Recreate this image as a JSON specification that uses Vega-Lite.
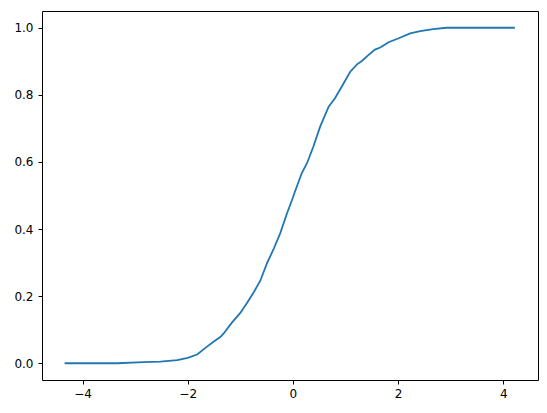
{
  "$schema": "https://vega.github.io/schema/vega-lite/v6.json",
  "width": 496,
  "height": 369,
  "autosize": {"type": "none"},
  "padding": {"left": 42, "top": 11, "right": 9, "bottom": 33},
  "background": "white",
  "config": {
    "view": {"stroke": "black", "strokeWidth": 1},
    "axis": {
      "grid": false,
      "domain": false,
      "tickColor": "black",
      "tickSize": 4,
      "labelColor": "black",
      "labelFont": "DejaVu Sans",
      "labelFontSize": 12,
      "labelFlush": false,
      "labelOverlap": false,
      "title": null
    }
  },
  "data": {
    "values": [
      {"x": -4.34, "p": 0.0},
      {"x": -3.34, "p": 0.0},
      {"x": -2.84, "p": 0.003},
      {"x": -2.52, "p": 0.005},
      {"x": -2.2, "p": 0.009},
      {"x": -2.0, "p": 0.016},
      {"x": -1.82, "p": 0.026},
      {"x": -1.67, "p": 0.045},
      {"x": -1.51, "p": 0.064},
      {"x": -1.38, "p": 0.078},
      {"x": -1.32, "p": 0.088},
      {"x": -1.16, "p": 0.121},
      {"x": -1.0, "p": 0.15},
      {"x": -0.87, "p": 0.18},
      {"x": -0.75, "p": 0.21},
      {"x": -0.62, "p": 0.246},
      {"x": -0.49, "p": 0.299},
      {"x": -0.37, "p": 0.339},
      {"x": -0.24, "p": 0.388},
      {"x": -0.11, "p": 0.448},
      {"x": -0.02, "p": 0.485},
      {"x": 0.04, "p": 0.512},
      {"x": 0.17, "p": 0.567},
      {"x": 0.27, "p": 0.597},
      {"x": 0.39, "p": 0.646},
      {"x": 0.52, "p": 0.706},
      {"x": 0.68, "p": 0.765},
      {"x": 0.8, "p": 0.79},
      {"x": 0.93, "p": 0.825},
      {"x": 1.09, "p": 0.869},
      {"x": 1.22, "p": 0.891},
      {"x": 1.31, "p": 0.901},
      {"x": 1.44, "p": 0.919},
      {"x": 1.56, "p": 0.935},
      {"x": 1.66, "p": 0.941},
      {"x": 1.82, "p": 0.957},
      {"x": 2.0, "p": 0.968},
      {"x": 2.23, "p": 0.983},
      {"x": 2.42, "p": 0.99},
      {"x": 2.67, "p": 0.996},
      {"x": 2.92, "p": 1.0},
      {"x": 4.22, "p": 1.0}
    ]
  },
  "mark": {"type": "line", "color": "#1f77b4", "strokeWidth": 1.8, "clip": true},
  "encoding": {
    "x": {
      "field": "x",
      "type": "quantitative",
      "scale": {"domain": [-4.77, 4.66], "nice": false, "zero": false},
      "axis": {"values": [-4, -2, 0, 2, 4], "format": "d", "labelPadding": 4}
    },
    "y": {
      "field": "p",
      "type": "quantitative",
      "scale": {"domain": [-0.05, 1.05], "nice": false, "zero": false},
      "axis": {"values": [0, 0.2, 0.4, 0.6, 0.8, 1.0], "format": ".1f", "labelPadding": 5}
    }
  }
}
